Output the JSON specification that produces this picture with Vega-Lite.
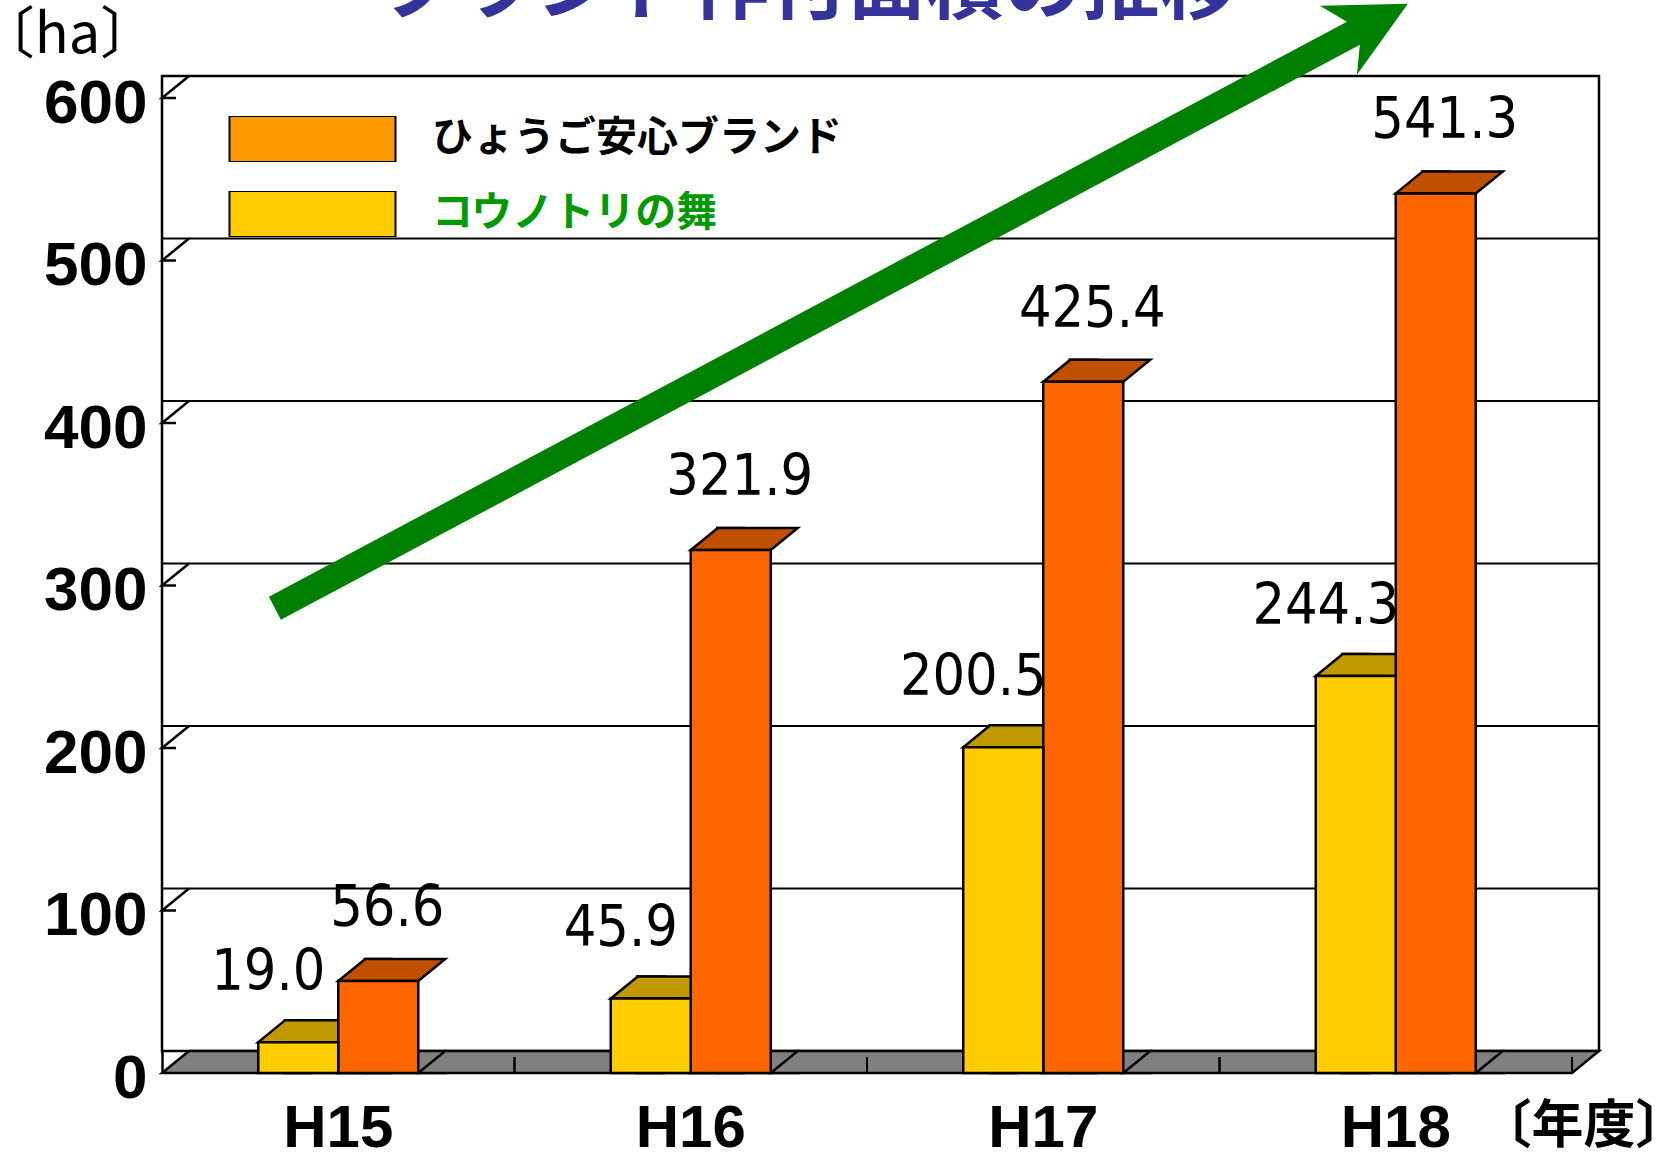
{
  "$schema": "https://vega.github.io/schema/vega-lite/v6.json",
  "width": 1410,
  "height": 975,
  "autosize": "none",
  "padding": {"left": 162, "top": 98, "right": 101, "bottom": 80},
  "background": "white",
  "config": {
    "view": {"stroke": null},
    "axisX": {
      "domain": false, "ticks": false, "grid": false,
      "labelFont": "Liberation Sans", "labelFontSize": 60, "labelFontWeight": "bold", "labelColor": "black",
      "labelPadding": 26, "labelAngle": 0,
      "titleFont": "Noto Sans CJK JP", "titleFontSize": 52, "titleFontWeight": "bold", "titleColor": "black",
      "titleX": 1421, "titleY": 53, "titleAlign": "center", "titleBaseline": "middle"
    },
    "axisY": {
      "domain": true, "domainColor": "black", "domainWidth": 2.5, "ticks": false, "grid": false,
      "labelFont": "Liberation Sans", "labelFontSize": 62, "labelFontWeight": "bold", "labelColor": "black",
      "labelPadding": 15, "labelOffset": 5, "tickCount": 6,
      "titleFont": "Noto Sans CJK JP", "titleFontSize": 56, "titleFontWeight": "normal", "titleColor": "black",
      "titleAngle": 0, "titleX": -95, "titleY": -63, "titleAlign": "center", "titleBaseline": "middle"
    }
  },
  "datasets": {
    "bars": [
      {"year": "H15", "series": "ひょうご安心ブランド", "value": 56.6},
      {"year": "H15", "series": "コウノトリの舞", "value": 19.0},
      {"year": "H16", "series": "ひょうご安心ブランド", "value": 321.9},
      {"year": "H16", "series": "コウノトリの舞", "value": 45.9},
      {"year": "H17", "series": "ひょうご安心ブランド", "value": 425.4},
      {"year": "H17", "series": "コウノトリの舞", "value": 200.5},
      {"year": "H18", "series": "ひょうご安心ブランド", "value": 541.3},
      {"year": "H18", "series": "コウノトリの舞", "value": 244.3}
    ],
    "grid": [{"v": 100}, {"v": 200}, {"v": 300}, {"v": 400}, {"v": 500}, {"v": 600}],
    "heading": [{"title": "ブランド作付面積の推移"}]
  },
  "data": {"name": "bars"},
  "layer": [
    {
      "mark": {"type": "bar", "strokeWidth": 0, "opacity": 1},
      "encoding": {
        "x": {"field": "year", "type": "nominal", "title": "〔年度〕", "scale": {"paddingInner": 0.0922, "paddingOuter": 0.0461}},
        "xOffset": {"field": "series", "type": "nominal", "sort": ["コウノトリの舞", "ひょうご安心ブランド"], "scale": {"paddingInner": 0, "paddingOuter": 1}},
        "y": {"datum": 0, "type": "quantitative", "title": "〔ha〕", "scale": {"domain": [0, 600], "nice": false, "zero": true}},
        "y2": {"datum": 0},
        "color": {
          "field": "series", "type": "nominal",
          "scale": {"domain": ["ひょうご安心ブランド", "コウノトリの舞"], "range": ["#FF9900", "#FFCC00"]},
          "legend": {
            "orient": "none", "legendX": 47, "legendY": 18, "title": null,
            "symbolType": "M0,-23 L166,-23 L166,23 L0,23 Z", "symbolSize": 4,
            "symbolStrokeColor": "black", "symbolStrokeWidth": 2, "symbolOpacity": 1,
            "labelFont": "Noto Sans CJK JP", "labelFontSize": 41, "labelFontWeight": "bold", "labelColor": "black",
            "labelOffset": 182, "labelLimit": 0, "clipHeight": 46, "rowPadding": 29,
            "encode": {
              "symbols": {"update": {
                "stroke": {"value": "black"},
                "strokeWidth": {"value": 2}
              }},
              "labels": {"update": {"fill": {"signal": "datum.value === 'コウノトリの舞' ? '#009900' : '#000000'"}}}
            }
          }
        }
      }
    },
    {
      "data": {"values": [{}]},
      "mark": {"type": "rect", "fill": "white", "stroke": "black", "strokeWidth": 2.5, "xOffset": 27, "x2Offset": 27, "yOffset": -22, "y2Offset": -22},
      "encoding": {
        "y": {"datum": 0, "type": "quantitative", "title": "〔ha〕"},
        "y2": {"datum": 600}
      }
    },
    {
      "data": {"name": "grid"},
      "mark": {"type": "rule", "stroke": "black", "strokeWidth": 2, "xOffset": 27, "x2Offset": 27, "yOffset": -22, "y2Offset": -22},
      "encoding": {
        "y": {"field": "v", "type": "quantitative", "title": "〔ha〕"}
      }
    },
    {
      "data": {"name": "grid"},
      "mark": {"type": "point", "shape": "M-2.25,0 L-16.25,0 L10.75,-22", "size": 4, "filled": false, "stroke": "black", "strokeWidth": 2.5, "opacity": 1},
      "encoding": {
        "x": {"datum": "H15", "type": "nominal", "bandPosition": 0, "title": "〔年度〕"},
        "y": {"field": "v", "type": "quantitative", "title": "〔ha〕"}
      }
    },
    {
      "data": {"values": [{}]},
      "mark": {"type": "point", "shape": "M-16.25,0 L1393.75,0 L1420.75,-22 L10.75,-22 Z", "size": 4, "filled": true, "fill": "#808080", "stroke": "black", "strokeWidth": 2.5, "opacity": 1},
      "encoding": {
        "x": {"datum": "H15", "type": "nominal", "bandPosition": 0, "title": "〔年度〕"},
        "y": {"datum": 0, "type": "quantitative", "title": "〔ha〕"}
      }
    },
    {
      "mark": {"type": "point", "shape": "M16.25,0 L16.25,-16", "size": 4, "filled": false, "stroke": "black", "strokeWidth": 2, "opacity": 1},
      "encoding": {
        "x": {"field": "year", "type": "nominal", "bandPosition": 1, "title": "〔年度〕"},
        "y": {"datum": 0, "type": "quantitative", "title": "〔ha〕"}
      }
    },
    {
      "data": {"values": [{}]},
      "mark": {"type": "point", "shape": "M-6,-11.5 L1072,-586.5 L1045,-602.5 L1133,-604.5 L1082,-533.5 L1085,-563.5 L6,11.5 Z", "size": 4, "filled": true, "fill": "#008000", "strokeWidth": 0, "opacity": 1},
      "encoding": {
        "x": {"datum": "H15", "type": "nominal", "bandPosition": 0.302, "title": "〔年度〕"},
        "y": {"datum": 286, "type": "quantitative", "title": "〔ha〕"}
      }
    },
    {
      "data": {"name": "heading"},
      "mark": {"type": "text", "font": "Noto Sans CJK JP", "fontSize": 78, "fontWeight": "bold", "fill": "#333399", "align": "left", "baseline": "alphabetic"},
      "encoding": {
        "x": {"datum": "H15", "type": "nominal", "bandPosition": 0.63, "title": "〔年度〕"},
        "y": {"datum": 652.5, "type": "quantitative", "title": "〔ha〕"},
        "text": {"field": "title"}
      }
    },
    {
      "mark": {"type": "bar", "width": 27, "xOffset": 53.5, "yOffset": -22, "stroke": "black", "strokeWidth": 2.5, "opacity": 1},
      "encoding": {
        "x": {"field": "year", "type": "nominal", "title": "〔年度〕"},
        "xOffset": {"field": "series", "type": "nominal", "sort": ["コウノトリの舞", "ひょうご安心ブランド"]},
        "y": {"field": "value", "type": "quantitative", "stack": null, "title": "〔ha〕"},
        "y2": {"datum": 0},
        "fill": {"condition": {"test": "datum.series === 'ひょうご安心ブランド'", "value": "#803300"}, "value": "#806600"}
      }
    },
    {
      "mark": {"type": "point", "shape": "M69,-22 L67,-22 L40,0 L69,0", "size": 4, "filled": true, "fill": "#808080", "stroke": "black", "strokeWidth": 2.5, "opacity": 1},
      "encoding": {
        "x": {"field": "year", "type": "nominal", "title": "〔年度〕"},
        "xOffset": {"field": "series", "type": "nominal", "sort": ["コウノトリの舞", "ひょうご安心ブランド"]},
        "y": {"datum": 0, "type": "quantitative", "title": "〔ha〕"}
      }
    },
    {
      "mark": {"type": "point", "shape": "M-40,0 L40,0 L67,-22 L-13,-22 Z", "size": 4, "filled": true, "stroke": "black", "strokeWidth": 2.5, "opacity": 1},
      "encoding": {
        "x": {"field": "year", "type": "nominal", "title": "〔年度〕"},
        "xOffset": {"field": "series", "type": "nominal", "sort": ["コウノトリの舞", "ひょうご安心ブランド"]},
        "y": {"field": "value", "type": "quantitative", "stack": null, "title": "〔ha〕"},
        "fill": {"condition": {"test": "datum.series === 'ひょうご安心ブランド'", "value": "#C04F00"}, "value": "#C09900"}
      }
    },
    {
      "mark": {"type": "bar", "stroke": "black", "strokeWidth": 2.5, "opacity": 1},
      "encoding": {
        "x": {"field": "year", "type": "nominal", "title": "〔年度〕"},
        "xOffset": {"field": "series", "type": "nominal", "sort": ["コウノトリの舞", "ひょうご安心ブランド"]},
        "y": {"field": "value", "type": "quantitative", "stack": null, "title": "〔ha〕"},
        "fill": {"condition": {"test": "datum.series === 'ひょうご安心ブランド'", "value": "#FF6600"}, "value": "#FFCC00"}
      }
    },
    {
      "transform": [{"filter": "datum.series === 'ひょうご安心ブランド'"}],
      "mark": {"type": "text", "font": "'DejaVu Sans Condensed', 'Liberation Sans'", "fontSize": 57, "fill": "black", "align": "center", "baseline": "alphabetic", "dx": 9, "dy": -55},
      "encoding": {
        "x": {"field": "year", "type": "nominal", "title": "〔年度〕"},
        "xOffset": {"field": "series", "type": "nominal", "sort": ["コウノトリの舞", "ひょうご安心ブランド"]},
        "y": {"field": "value", "type": "quantitative", "stack": null, "title": "〔ha〕"},
        "text": {"field": "value", "type": "quantitative", "format": ".1f"}
      }
    },
    {
      "transform": [{"filter": "datum.series === 'コウノトリの舞'"}],
      "mark": {"type": "text", "font": "'DejaVu Sans Condensed', 'Liberation Sans'", "fontSize": 57, "fill": "black", "align": "center", "baseline": "alphabetic", "dx": -30, "dy": -52},
      "encoding": {
        "x": {"field": "year", "type": "nominal", "title": "〔年度〕"},
        "xOffset": {"field": "series", "type": "nominal", "sort": ["コウノトリの舞", "ひょうご安心ブランド"]},
        "y": {"field": "value", "type": "quantitative", "stack": null, "title": "〔ha〕"},
        "text": {"field": "value", "type": "quantitative", "format": ".1f"}
      }
    }
  ]
}
